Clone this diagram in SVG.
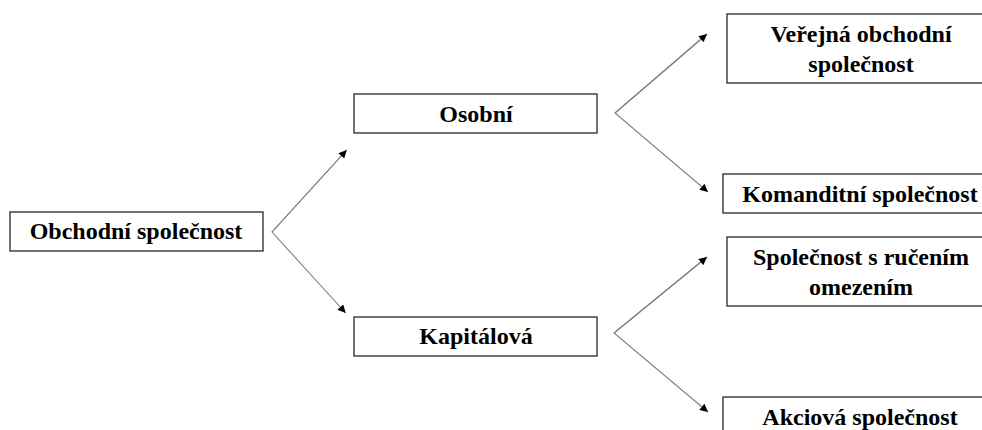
<svg xmlns="http://www.w3.org/2000/svg" width="982" height="430" viewBox="0 0 982 430">
<defs>
<style>
.box{fill:#fff;stroke:#262626;stroke-width:1.3}
.t{font-family:"Liberation Serif","Times New Roman",serif;font-weight:bold;font-size:24px;fill:#000;text-anchor:middle}
.c{stroke:#808080;stroke-width:1.1;fill:none}
</style>
<marker id="ah" viewBox="0 0 10 10" refX="10" refY="5" markerWidth="9" markerHeight="8" markerUnits="userSpaceOnUse" orient="auto">
<path d="M0,0 L10,5 L0,10 z" fill="#000"/>
</marker>
</defs>
<rect width="982" height="430" fill="#fff"/>
<g id="connectors">
<path class="c" d="M346.7,150 L272,232 L345.7,313" marker-end="url(#ah)"/>
<path class="c" d="M272,232 L346.7,150" marker-end="url(#ah)"/>
<path class="c" d="M707,34 L615,113 L708,192" marker-end="url(#ah)"/>
<path class="c" d="M615,113 L707,34" marker-end="url(#ah)"/>
<path class="c" d="M707,257 L614,333 L708,412" marker-end="url(#ah)"/>
<path class="c" d="M614,333 L707,257" marker-end="url(#ah)"/>
</g>
<g id="obchodni">
<rect class="box" x="10" y="212" width="253" height="39"/>
<text class="t" x="136" y="239">Obchodní společnost</text>
</g>
<g id="osobni">
<rect class="box" x="354" y="94" width="243" height="39"/>
<text class="t" x="476" y="122">Osobní</text>
</g>
<g id="kapitalova">
<rect class="box" x="354" y="317" width="243" height="39"/>
<text class="t" x="476" y="344">Kapitálová</text>
</g>
<g id="vos">
<rect class="box" x="727" y="14" width="268" height="69"/>
<text class="t" x="861" y="42">Veřejná obchodní</text>
<text class="t" x="861" y="72">společnost</text>
</g>
<g id="ks">
<rect class="box" x="723" y="174" width="273" height="39"/>
<text class="t" x="860" y="202">Komanditní společnost</text>
</g>
<g id="sro">
<rect class="box" x="727" y="237" width="268" height="69"/>
<text class="t" x="861" y="265">Společnost s ručením</text>
<text class="t" x="861" y="295">omezením</text>
</g>
<g id="as">
<rect class="box" x="723" y="397" width="273" height="50"/>
<text class="t" x="860" y="425">Akciová společnost</text>
</g>
</svg>
